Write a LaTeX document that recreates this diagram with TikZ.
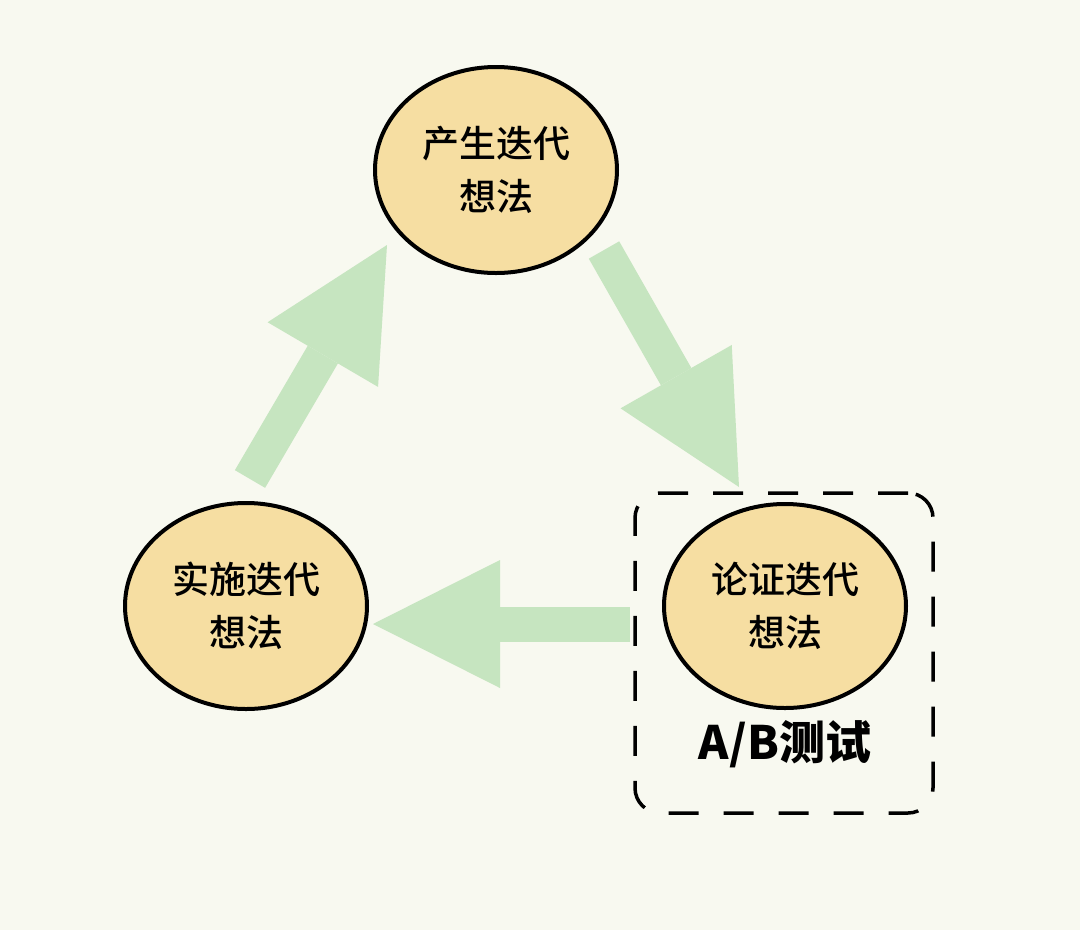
\documentclass[tikz,border=0pt]{standalone}
\usepackage{fontspec}
\newfontfamily\cjk{Noto Sans CJK SC Medium}
\newfontfamily\cjkb{Noto Sans CJK SC}
\usetikzlibrary{arrows.meta,shapes.geometric}
\definecolor{bg}{HTML}{F8F9F0}
\definecolor{ideafill}{HTML}{F6DEA2}
\definecolor{flow}{HTML}{C6E5C0}
\begin{document}
\begin{tikzpicture}[x=1pt,y=-1pt,
  idea/.style={ellipse, draw=black, line width=4pt, fill=ideafill,
    minimum width=242pt, minimum height=206pt, inner sep=0pt, align=center,
    font=\cjk\fontsize{37}{53}\selectfont},
  flowarrow/.style={draw=flow, line width=35pt,
    -{Triangle[length=127pt,width=128pt,line width=0pt]}},
  testbox/.style={draw=black, line width=3.5pt, dash pattern=on 30pt off 25pt,
    rounded corners=25pt, minimum width=298pt, minimum height=320pt, inner sep=0pt},
  testlabel/.style={font=\cjkb\bfseries\fontsize{46}{50}\selectfont, inner sep=0pt}
]
\fill[bg] (0,0) rectangle (1080,930);
\node[idea] (gen) at (496,170) {产生迭代\\想法};
\node[idea] (impl) at (246,606) {实施迭代\\想法};
\node[idea, minimum height=204pt] (ver) at (785,606) {论证迭代\\想法};
\node[testbox] (ab) at (784,653) {};
\node[testlabel] (ablabel) at (785,744) {A/B测试};
\coordinate (a1s) at (250,479);
\coordinate (a1e) at (387,245);
\coordinate (a2s) at (604,250);
\coordinate (a2e) at (739,487);
\coordinate (a3s) at (630,624);
\coordinate (a3e) at (373,624);
\draw[flowarrow] (a1s) -- (a1e);
\draw[flowarrow] (a2s) -- (a2e);
\draw[flowarrow] (a3s) -- (a3e);
\end{tikzpicture}
\end{document}
